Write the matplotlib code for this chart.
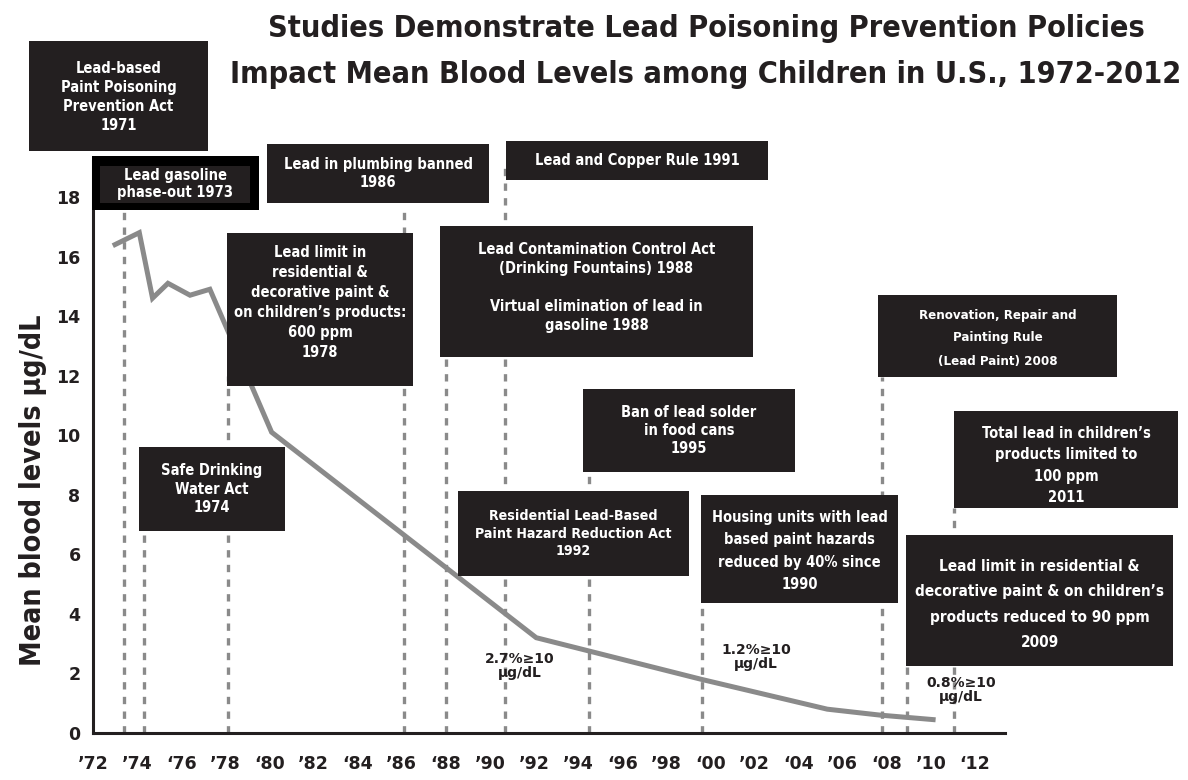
import matplotlib
matplotlib.use('Agg')
import matplotlib.pyplot as plt
from matplotlib.patches import Rectangle
from matplotlib import font_manager as fm

# Mean blood lead levels (µg/dL)
years = [1973.0, 1974.1, 1974.7, 1975.4, 1976.4, 1977.3, 1980.1, 1992.1, 1999.6, 2005.3, 2007.7, 2010.1]
blood_lead = [16.4, 16.8, 14.6, 15.1, 14.7, 14.9, 10.1, 3.2, 1.8, 0.8, 0.6, 0.45]

# Policy markers (dotted verticals) and how high they go
policy_years = [1973.4, 1974.3, 1978.1, 1986.1, 1988.0, 1990.7, 1994.5, 1999.6, 2007.8, 2008.9, 2011.05]
policy_tops = [17.56, 7.0, 12.0, 17.63, 12.6, 19.0, 8.76, 4.37, 11.95, 2.25, 7.55]

tick_years = list(range(1972, 2013, 2))
tick_labels = ['’72', '’74', '‘76', '’78', '‘80', '’82', '‘84', '’86', '‘88', '’90', '’92',
               '’94', '‘96', '’98', '‘00', '’02', '‘04', '’06', '‘08', '’10', '‘12']
y_ticks = list(range(0, 19, 2))

notes = ['2.7%≥10\nµg/dL', '1.2%≥10\nµg/dL', '0.8%≥10\nµg/dL']
note_pos = [(520, 666), (756, 657), (961, 690)]

# box: x0, y0, x1, y1 (pixels), text, fontsize, linespacing, text shift (px)
boxes = [
    (29, 41, 208, 151, 'Lead-based\nPaint Poisoning\nPrevention Act\n1971', 10.5, 1.35, 1),
    (267, 144, 489, 203, 'Lead in plumbing banned\n1986', 10.5, 1.3, 0),
    (506, 141, 768, 180, 'Lead and Copper Rule 1991', 10.5, 1.0, 0),
    (227, 233, 413, 386, 'Lead limit in\nresidential &\ndecorative paint &\non children’s products:\n600 ppm\n1978', 10.5, 1.43, -7),
    (440, 226, 753, 357, 'Lead Contamination Control Act\n(Drinking Fountains) 1988\n\nVirtual elimination of lead in\ngasoline 1988', 10.5, 1.35, -4),
    (878, 295, 1117, 377, 'Renovation, Repair and\nPainting Rule\n(Lead Paint) 2008', 9.5, 2.0, 2),
    (583, 389, 795, 472, 'Ban of lead solder\nin food cans\n1995', 10.5, 1.25, 0),
    (954, 411, 1178, 508, 'Total lead in children’s\nproducts limited to\n100 ppm\n2011', 10.5, 1.55, 6),
    (139, 447, 285, 531, 'Safe Drinking\nWater Act\n1974', 10.5, 1.25, 0),
    (458, 491, 689, 576, 'Residential Lead-Based\nPaint Hazard Reduction Act\n1992', 10.2, 1.3, 0),
    (701, 495, 898, 603, 'Housing units with lead\nbased paint hazards\nreduced by 40% since\n1990', 10.5, 1.62, 2),
    (906, 535, 1173, 666, 'Lead limit in residential &\ndecorative paint & on children’s\nproducts reduced to 90 ppm\n2009', 11, 1.85, 4),
]

W, H = 1188, 780
names = {f.name for f in fm.fontManager.ttflist}
if 'Liberation Sans Narrow' in names:
    cond = dict(family='Liberation Sans Narrow')
else:
    cond = dict(family='DejaVu Sans', stretch='condensed')

dark = '#231f20'
gray = '#8a8a8a'


def fx(x):
    return x / W


def fy(y):
    return 1 - y / H


fig = plt.figure(figsize=(11.88, 7.8), dpi=100)
ax = fig.add_axes([fx(93), fy(733), (1005 - 93) / W, (733 - 161.2) / H])

ax.vlines(policy_years, 0, policy_tops, colors=gray, linestyles=(0, (2.2, 2.2)), linewidth=2.4, zorder=1)
ax.plot(years, blood_lead, color=gray, linewidth=3.6, solid_joinstyle='miter', zorder=2)

ax.set_xlim(1972.14, 2013.36)
ax.set_ylim(0, 19.2)
ax.set_xticks(tick_years)
ax.set_xticklabels(tick_labels)
ax.set_yticks(y_ticks)
ax.tick_params(length=0, labelsize=12.5, colors=dark)
ax.tick_params(axis='x', pad=16)
ax.tick_params(axis='y', pad=9)
for lab in ax.get_xticklabels() + ax.get_yticklabels():
    lab.set_fontweight('bold')
for s in ['top', 'right']:
    ax.spines[s].set_visible(False)
for s in ['left', 'bottom']:
    ax.spines[s].set_linewidth(2.2)
    ax.spines[s].set_color(dark)

fig.text(fx(33), fy(490), 'Mean blood levels µg/dL', rotation=90, ha='center', va='center',
         fontsize=20.5, fontweight='bold', color=dark, **cond)

fig.text(fx(706), fy(51.5), 'Studies Demonstrate Lead Poisoning Prevention Policies\n'
         'Impact Mean Blood Levels among Children in U.S., 1972-2012',
         ha='center', va='center', fontsize=22, fontweight='bold', color=dark,
         linespacing=1.75, **cond)

for txt, (px, py) in zip(notes, note_pos):
    fig.text(fx(px), fy(py), txt, ha='center', va='center', fontsize=10,
             fontweight='bold', color=dark, linespacing=1.0)

# Lead gasoline box with its heavy black frame
fig.patches.append(Rectangle((fx(92), fy(210)), (259 - 92) / W, (210 - 156) / H,
                             transform=fig.transFigure, facecolor='black', edgecolor='none', zorder=5))
fig.patches.append(Rectangle((fx(100), fy(203)), (250 - 100) / W, (203 - 166) / H,
                             transform=fig.transFigure, facecolor=dark, edgecolor='none', zorder=6))
fig.text(fx(175), fy(184), 'Lead gasoline\nphase-out 1973', ha='center', va='center', color='white',
         fontsize=10.5, fontweight='bold', linespacing=1.15, zorder=7, **cond)

for x0, y0, x1, y1, txt, fs, ls, dy in boxes:
    fig.patches.append(Rectangle((fx(x0), fy(y1)), (x1 - x0) / W, (y1 - y0) / H,
                                 transform=fig.transFigure, facecolor=dark, edgecolor='none', zorder=5))
    fig.text(fx((x0 + x1) / 2), fy((y0 + y1) / 2 + dy), txt, ha='center', va='center', color='white',
             fontsize=fs, fontweight='bold', linespacing=ls, zorder=7, **cond)

fig.savefig('out.png', dpi=100)
